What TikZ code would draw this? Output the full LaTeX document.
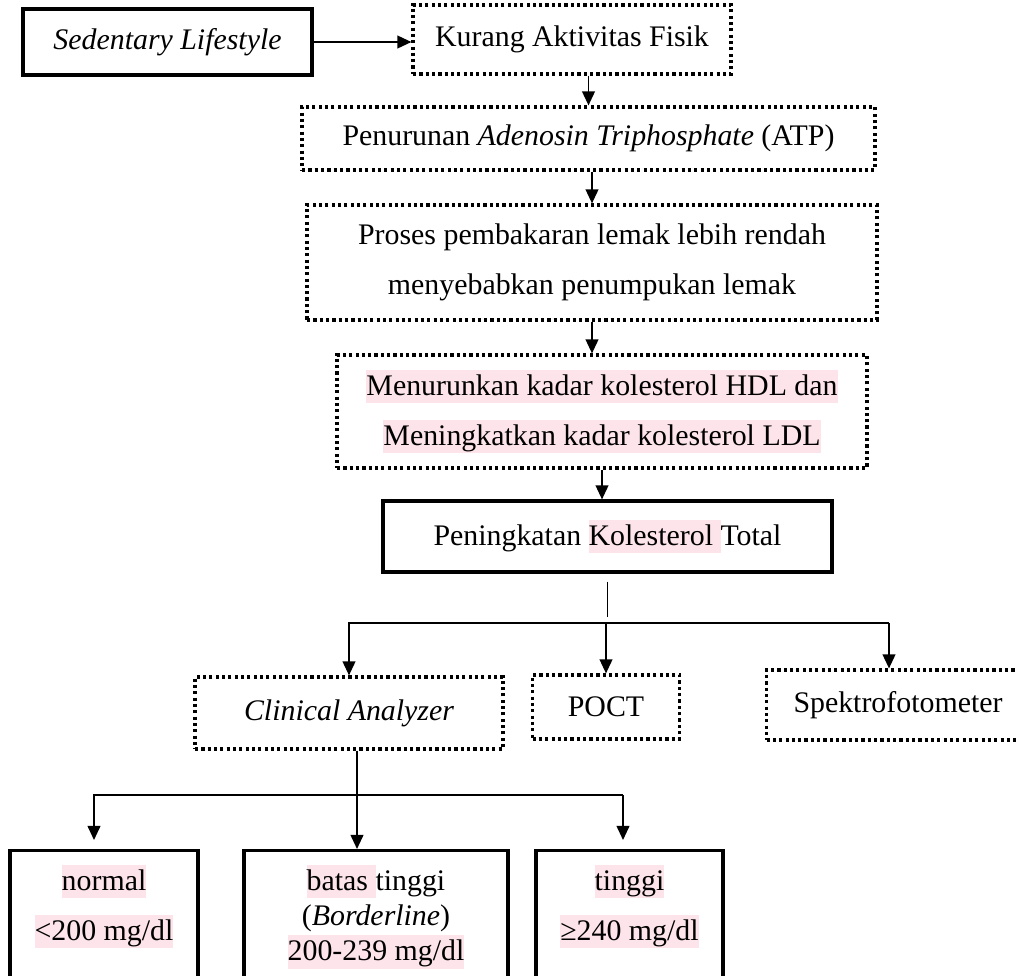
\documentclass[tikz,border=0pt]{standalone}
\usepackage{fontspec}
\setmainfont{Liberation Serif}
\usepackage{tikz}
\usetikzlibrary{arrows.meta,positioning}
\usepackage{xcolor}
\definecolor{HlPink}{HTML}{FDE4EA}
\newcommand{\pinkhl}[1]{{\setlength{\fboxsep}{0pt}\colorbox{HlPink}{\rule[-0.27em]{0pt}{1.13em}#1}}}

\begin{document}
\begin{tikzpicture}[x=0.02cm,y=-0.02cm,>={Triangle[length=8pt,width=7.2pt]},
    txt/.style={font=\fontsize{17}{28.5}\selectfont,align=center,inner sep=0pt},
    solidbox/.style={txt,draw,line width=1.8pt},
    dotbox/.style={txt,draw,line width=1.8pt,dash pattern=on 1.8pt off 1.8pt},
    lvlbox/.style={solidbox,anchor=north,inner ysep=0.28cm},
    link/.style={line width=1.1pt}]
    \useasboundingbox (0,0) rectangle (1016,975);
    \clip (0,0) rectangle (1016,975);

    % main chain
    \node[solidbox,minimum width=5.78cm,minimum height=1.32cm] (sed) at (167.5,42) {\itshape Sedentary Lifestyle};
    \node[dotbox,minimum width=6.36cm,minimum height=1.38cm] (kurang) at (572,39.5) {Kurang Aktivitas Fisik};
    \node[dotbox,minimum width=11.46cm,minimum height=1.26cm] (atp) at (588.5,138.5) {Penurunan \textit{Adenosin Triphosphate} (ATP)};
    \node[dotbox,minimum width=11.4cm,minimum height=2.3cm] (lemak) at (592,262.5) {Proses pembakaran lemak lebih rendah\\menyebabkan penumpukan lemak};
    \node[dotbox,minimum width=10.6cm,minimum height=2.26cm] (kadar) at (602,411.5) {\pinkhl{Menurunkan kadar kolesterol HDL dan}\\\pinkhl{Meningkatkan kadar kolesterol LDL}};
    \node[solidbox,minimum width=8.98cm,minimum height=1.42cm] (total) at (607.5,536.5) {Peningkatan \pinkhl{Kolesterol }Total};

    % methods
    \node[dotbox,minimum width=6.16cm,minimum height=1.44cm] (clin) at (349,713) {\itshape Clinical Analyzer};
    \node[dotbox,minimum width=2.94cm,minimum height=1.28cm] (poct) at (606,707) {POCT};
    \node[dotbox,minimum width=5.26cm,minimum height=1.4cm] (spek) at (898,705) {Spektrofotometer};

    % categories
    \node[lvlbox,minimum width=3.76cm] (normal) at (104,849) {\pinkhl{normal}\\\pinkhl{<200 mg/dl}\rule[-3cm]{0pt}{3cm}};
    \node[lvlbox,minimum width=5.28cm,font=\fontsize{17}{20}\selectfont] (batas) at (376,849) {\pinkhl{batas }tinggi\\(\textit{Borderline})\\\pinkhl{200-239 mg/dl}\rule[-3cm]{0pt}{3cm}};
    \node[lvlbox,minimum width=3.74cm] (tinggi) at (629.5,849) {\pinkhl{tinggi}\\\pinkhl{≥240 mg/dl}\rule[-3cm]{0pt}{3cm}};

    \draw[link,->] (sed.east) -- (sed.east -| kurang.west);
    \draw[link,->] (atp.north |- kurang.south) -- (atp.north);
    \draw[link,->] (lemak.north |- atp.south) -- (lemak.north);
    \draw[link,->] (lemak.south) -- (lemak.south |- kadar.north);
    \draw[link,->] (kadar.south) -- (kadar.south |- total.north);

    \coordinate (hub) at (606,623);
    \coordinate (hubR) at (889,623);
    \draw[link] ([yshift=-0.16cm]total.south) -- ([yshift=0.12cm]total.south |- hub);
    \draw[link,->] (hubR) -- (hub) -| (clin.north);
    \draw[link,->] (hubR) -- (hubR |- spek.north);
    \draw[link,->] (hub) -- (poct.north);

    \coordinate (fork) at (357,795);
    \coordinate (forkL) at (94,795);
    \coordinate (forkR) at (623,795);
    \draw[link,->] (clin.south -| fork) -- (fork |- batas.north);
    \draw[link,->,shorten >=0.18cm] (forkR) -- (forkL) -- (forkL |- normal.north);
    \draw[link,->,shorten >=0.18cm] (forkR) -- (forkR |- tinggi.north);
  \end{tikzpicture}
\end{document}
